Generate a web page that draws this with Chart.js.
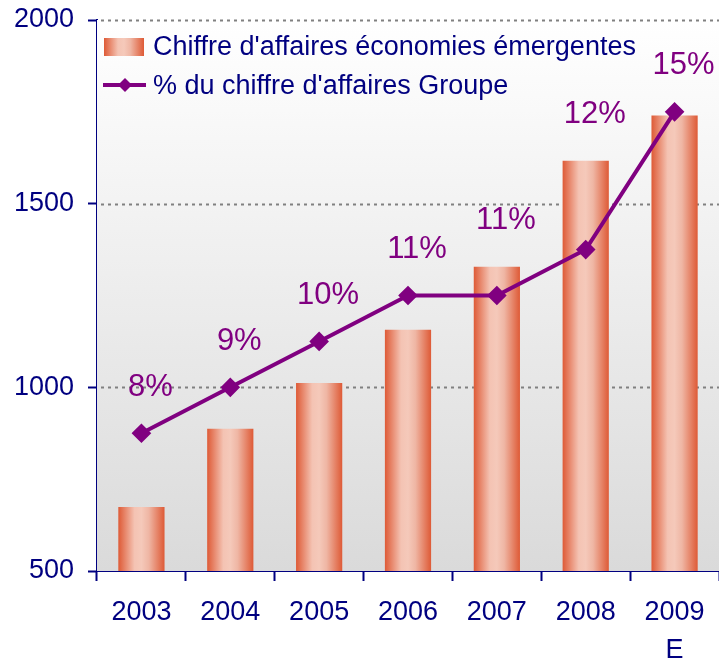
<!DOCTYPE html>
<html>
<head>
<meta charset="utf-8">
<script src="https://cdn.jsdelivr.net/npm/chart.js@4"></script>
<style>
  html, body { margin: 0; padding: 0; background: #fff; }
  #wrap { width: 719px; height: 659px; }
</style>
</head>
<body>
<div id="wrap"><canvas id="chart" width="719" height="659"></canvas></div>
<script>
const years = ['2003', '2004', '2005', '2006', '2007', '2008', ['2009', 'E']];
const salesEmerging = [674, 887, 1012, 1157, 1328, 1617, 1740];
const shareOfGroup = [8, 9, 10, 11, 11, 12, 15];
const yTicks = [500, 1000, 1500, 2000];

const NAVY = '#000080';
const PURPLE = '#800080';
const FONT = '"Liberation Sans", Arial, sans-serif';

function barGradient(ctx, x0, x1) {
    const g = ctx.createLinearGradient(x0, 0, x1, 0);
    g.addColorStop(0, '#DE5A36');
    g.addColorStop(0.35, '#F4C3B3');
    g.addColorStop(0.5, '#F5C9BA');
    g.addColorStop(0.66, '#EFB6A4');
    g.addColorStop(1, '#DE5A36');
    return g;
}

// plot background + dotted grid lines
const backdrop = {
    id: 'backdrop',
    beforeDatasetsDraw(chart) {
        const { ctx, chartArea: a, scales: { y } } = chart;
        ctx.save();
        const g = ctx.createLinearGradient(0, a.top, 0, a.bottom);
        g.addColorStop(0, '#FFFFFF');
        g.addColorStop(1, '#DADADA');
        ctx.fillStyle = g;
        ctx.fillRect(a.left, a.top, a.right - a.left, a.bottom - a.top);
        ctx.strokeStyle = '#808080';
        ctx.lineWidth = 2;
        ctx.setLineDash([3, 4]);
        yTicks.slice(1).forEach(v => {
            const py = Math.round(y.getPixelForValue(v)) + 0.5;
            ctx.beginPath();
            ctx.moveTo(a.left + 4, py);
            ctx.lineTo(a.right, py);
            ctx.stroke();
        });
        ctx.restore();
    }
};

// percentage labels above line/bars
const pctLabels = {
    id: 'pctLabels',
    afterDatasetsDraw(chart) {
        const { ctx } = chart;
        const bars = chart.getDatasetMeta(1).data;
        const pts = chart.getDatasetMeta(0).data;
        ctx.save();
        ctx.font = '31px ' + FONT;
        ctx.fillStyle = PURPLE;
        ctx.textAlign = 'center';
        ctx.textBaseline = 'middle';
        pts.forEach((p, i) => {
            const top = Math.min(p.y, bars[i].y);
            ctx.fillText(shareOfGroup[i] + '%', p.x + 9, top - 46);
        });
        ctx.restore();
    }
};

// legend inside plot, top-left
const insideLegend = {
    id: 'insideLegend',
    afterDraw(chart) {
        const { ctx, chartArea: a } = chart;
        const ds = chart.data.datasets;
        const x0 = a.left + 7;
        ctx.save();
        ctx.fillStyle = barGradient(ctx, x0, x0 + 40);
        ctx.fillRect(x0, 38, 40, 18);
        ctx.strokeStyle = PURPLE;
        ctx.lineWidth = 4;
        ctx.beginPath();
        ctx.moveTo(x0 - 1, 85);
        ctx.lineTo(x0 + 42, 85);
        ctx.stroke();
        ctx.fillStyle = PURPLE;
        ctx.beginPath();
        ctx.moveTo(x0 + 21, 78);
        ctx.lineTo(x0 + 28, 85);
        ctx.lineTo(x0 + 21, 92);
        ctx.lineTo(x0 + 14, 85);
        ctx.closePath();
        ctx.fill();
        ctx.font = '27px ' + FONT;
        ctx.fillStyle = NAVY;
        ctx.textBaseline = 'middle';
        ctx.fillText(ds[1].label, x0 + 49, 48);
        ctx.fillText(ds[0].label, x0 + 49, 87);
        ctx.restore();
    }
};

new Chart(document.getElementById('chart'), {
    data: {
        labels: years,
        datasets: [
            {
                type: 'line',
                label: '% du chiffre d\'affaires Groupe',
                data: shareOfGroup,
                yAxisID: 'y2',
                borderColor: PURPLE,
                borderWidth: 4,
                pointStyle: 'rectRot',
                pointRadius: 7,
                pointBackgroundColor: PURPLE,
                pointBorderColor: PURPLE,
                tension: 0,
                clip: false,
                order: 0
            },
            {
                type: 'bar',
                label: 'Chiffre d\'affaires économies émergentes',
                data: salesEmerging,
                yAxisID: 'y',
                barPercentage: 0.52,
                categoryPercentage: 1,
                backgroundColor(c) {
                    const chart = c.chart;
                    const xs = chart.scales.x;
                    if (!xs || c.dataIndex === undefined) return '#DE5A36';
                    const cx = xs.getPixelForValue(c.dataIndex);
                    const w = (xs.width / years.length) * 0.52;
                    if (!Number.isFinite(cx) || !Number.isFinite(w) || w <= 0) return '#DE5A36';
                    return barGradient(chart.ctx, cx - w / 2, cx + w / 2);
                },
                order: 1
            }
        ]
    },
    options: {
        responsive: false,
        animation: false,
        layout: { autoPadding: false, padding: { top: 20, right: 0, left: 0, bottom: 0 } },
        plugins: { legend: { display: false }, tooltip: { enabled: false } },
        scales: {
            x: {
                offset: true,
                grid: {
                    offset: true,
                    drawOnChartArea: false,
                    tickLength: 10,
                    tickColor: NAVY,
                    tickWidth: 2
                },
                border: { color: NAVY, width: 2 },
                ticks: {
                    color: NAVY,
                    padding: 13,
                    maxRotation: 0,
                    autoSkip: false,
                    font: { family: FONT, size: 27, lineHeight: 1.4 }
                },
                afterFit(scale) {
                    scale.height = 88;
                    scale.paddingLeft = 0;
                    scale.paddingRight = 0;
                }
            },
            y: {
                min: 500,
                max: 2000,
                afterBuildTicks(scale) { scale.ticks = yTicks.map(v => ({ value: v })); },
                grid: {
                    drawOnChartArea: false,
                    tickLength: 9,
                    tickColor: NAVY,
                    tickWidth: 2
                },
                border: { color: NAVY, width: 2 },
                ticks: {
                    color: NAVY,
                    padding: 14,
                    font: { family: FONT, size: 27 },
                    callback: v => String(v)
                },
                afterFit(scale) {
                    scale.width = 97;
                    scale.paddingTop = 0;
                    scale.paddingBottom = 0;
                }
            },
            y2: {
                display: false,
                min: 5,
                max: 17
            }
        }
    },
    plugins: [backdrop, pctLabels, insideLegend]
});
</script>
</body>
</html>
